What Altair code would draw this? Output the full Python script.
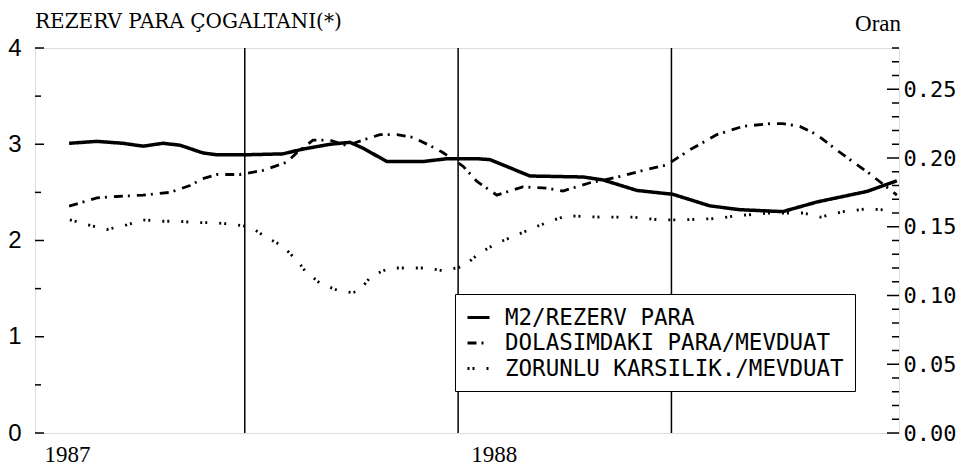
import altair as alt
import pandas as pd

# ---------------- data ----------------
title_text = "REZERV PARA ÇOGALTANI(*)"
right_title = "Oran"

series_names = ["M2/REZERV PARA", "DOLASIMDAKI PARA/MEVDUAT", "ZORUNLU KARSILIK./MEVDUAT"]

# x = months since Dec 1986 (1 = Jan 1987, 13 = Jan 1988)
m2_month = [1.06, 1.84, 2.57, 3.14, 3.70, 4.18, 4.82, 5.22, 5.95, 7.07,
            7.64, 8.40, 8.96, 9.32, 10.00, 11.01, 11.69, 12.53, 12.90, 14.02,
            15.51, 16.07, 17.03, 18.04, 19.08, 19.93, 21.13, 22.09, 23.50, 24.34]
m2_value = [3.01, 3.03, 3.01, 2.98, 3.01, 2.99, 2.91, 2.89, 2.89, 2.90,
            2.95, 3.00, 3.02, 2.96, 2.82, 2.82, 2.85, 2.85, 2.84, 2.67,
            2.66, 2.63, 2.52, 2.48, 2.36, 2.32, 2.30, 2.40, 2.51, 2.62]

dol_month = [1.06, 1.84, 2.41, 3.14, 3.90, 4.46, 4.82, 5.22, 5.86, 6.51,
             7.19, 7.47, 7.92, 8.40, 8.87, 9.32, 9.80, 10.28, 10.73, 11.21,
             11.57, 12.14, 12.53, 13.09, 13.82, 14.50, 14.95, 15.71, 16.47, 17.20,
             17.87, 18.52, 19.28, 20.01, 20.77, 21.13, 21.61, 22.09, 22.74, 23.50,
             23.95, 24.34]
dol_ratio = [0.165, 0.171, 0.172, 0.173, 0.175, 0.180, 0.185, 0.188, 0.188, 0.191,
             0.197, 0.204, 0.213, 0.213, 0.209, 0.213, 0.217, 0.217, 0.215, 0.209,
             0.204, 0.194, 0.183, 0.173, 0.179, 0.178, 0.176, 0.182, 0.186, 0.191,
             0.195, 0.206, 0.217, 0.223, 0.225, 0.225, 0.223, 0.217, 0.204, 0.190,
             0.181, 0.173]

zor_month = [1.08, 1.65, 2.12, 2.63, 3.14, 3.70, 4.12, 4.66, 5.08, 5.58,
             6.15, 6.62, 7.07, 7.55, 7.69, 8.11, 8.59, 9.04, 9.24, 9.52,
             9.72, 10.08, 10.65, 11.12, 11.57, 12.14, 12.61, 13.09, 13.65, 14.10,
             14.58, 15.06, 15.99, 16.92, 17.68, 18.32, 19.28, 19.84, 20.77, 21.70,
             22.18, 22.82, 23.50, 24.14]
zor_ratio = [0.155, 0.151, 0.148, 0.151, 0.155, 0.154, 0.154, 0.153, 0.153, 0.152,
             0.150, 0.142, 0.136, 0.123, 0.118, 0.109, 0.104, 0.102, 0.104, 0.113,
             0.116, 0.120, 0.120, 0.120, 0.118, 0.121, 0.131, 0.138, 0.144, 0.149,
             0.154, 0.158, 0.157, 0.157, 0.155, 0.155, 0.156, 0.158, 0.160, 0.160,
             0.157, 0.161, 0.163, 0.162]

divider_months = [6, 12, 18]
year_ticks = [1, 13]
year_labels = ["1987", "1988"]

left_major = [0, 1, 2, 3, 4]
left_minor = [0.5, 1.5, 2.5, 3.5]
right_major = [0.00, 0.05, 0.10, 0.15, 0.20, 0.25]
right_minor = [i / 100 for i in range(0, 29) if i % 5 != 0]

# ---------------- tables ----------------
m2_df = pd.DataFrame({"month": m2_month, "value": m2_value, "series": series_names[0]})
ratio_df = pd.concat([
    pd.DataFrame({"month": dol_month, "ratio": dol_ratio, "series": series_names[1]}),
    pd.DataFrame({"month": zor_month, "ratio": zor_ratio, "series": series_names[2]}),
])
div_df = pd.DataFrame({"month": divider_months})
lmaj_df = pd.DataFrame({"v": left_major})
lmin_df = pd.DataFrame({"v": left_minor})
rmaj_df = pd.DataFrame({"v": right_major})
rmin_df = pd.DataFrame({"v": right_minor})
txt_df = pd.DataFrame({"t": [title_text]})
txt2_df = pd.DataFrame({"t": [right_title]})

W, H = 864, 385

label_expr = " : ".join(
    f"datum.value == {v} ? '{l}'" for v, l in zip(year_ticks[:-1], year_labels[:-1])
) + f" : '{year_labels[-1]}'"

xscale = alt.Scale(domain=[0.1, 24.4], nice=False, zero=False)
xaxis = alt.Axis(values=year_ticks, labelExpr=label_expr, ticks=False, domain=False,
                 grid=False, title=None, labelFont="Liberation Serif", labelFontSize=23,
                 labelPadding=10, labelColor="black", labelFlush=False)
X = alt.X("month:Q", scale=xscale, axis=xaxis)

left_scale = alt.Scale(domain=[0, 4], nice=False, zero=True)
right_scale = alt.Scale(domain=[0, 0.28], nice=False, zero=True)

dash_scale = alt.Scale(domain=series_names, range=[[1, 0], [9, 5, 2, 7], [2, 3, 2, 12]])
legend = alt.Legend(orient="none", legendX=420, legendY=246, title=None,
                    strokeColor="black", fillColor="white", padding=11,
                    labelFont="DejaVu Sans Mono", labelFontSize=22.5, labelColor="black",
                    labelLimit=500, labelOffset=14, symbolType="stroke", symbolSize=484,
                    symbolStrokeWidth=3, symbolStrokeColor="black", rowPadding=1.5)

dividers = alt.Chart(div_df).mark_rule(color="black", strokeWidth=1.5).encode(x=X)

m2_line = alt.Chart(m2_df).mark_line(color="black", strokeWidth=3.5).encode(
    x=X,
    y=alt.Y("value:Q", scale=left_scale,
            axis=alt.Axis(orient="left", values=left_major, ticks=False, domain=False,
                          grid=False, title=None,
                          labelFont="Liberation Sans Narrow, Liberation Sans",
                          labelFontSize=24, labelPadding=14, labelColor="black")),
    strokeDash=alt.StrokeDash("series:N", scale=dash_scale, legend=legend),
)

ratio_lines = alt.Chart(ratio_df).mark_line(color="black", strokeWidth=2.8).encode(
    x=X,
    y=alt.Y("ratio:Q", scale=right_scale,
            axis=alt.Axis(orient="right", values=right_major, format=".2f", ticks=False,
                          domain=False, grid=False, title=None,
                          labelFont="DejaVu Sans Mono", labelFontSize=22,
                          labelPadding=4, labelColor="black")),
    strokeDash=alt.StrokeDash("series:N", scale=dash_scale, legend=legend),
    detail="series:N",
)

def tick_layer(df, scale, x0, x1):
    return alt.Chart(df).mark_rule(color="black", strokeWidth=1.5).encode(
        y=alt.Y("v:Q", scale=scale, axis=None),
        x=alt.value(x0), x2=alt.value(x1),
    )

lt_major = tick_layer(lmaj_df, left_scale, 0, 9)
lt_minor = tick_layer(lmin_df, left_scale, 0, 6)
rt_major = tick_layer(rmaj_df, right_scale, W - 12, W)
rt_minor = tick_layer(rmin_df, right_scale, W - 7, W)

title_mark = alt.Chart(txt_df).mark_text(
    font="DejaVu Serif", fontSize=20, align="left", baseline="alphabetic", color="black"
).encode(text="t:N", x=alt.value(0), y=alt.value(-20))

oran_mark = alt.Chart(txt2_df).mark_text(
    font="Liberation Serif", fontSize=23, align="right", baseline="alphabetic", color="black"
).encode(text="t:N", x=alt.value(W + 2), y=alt.value(-17))

chart = alt.layer(
    dividers, m2_line, ratio_lines, lt_major, lt_minor, rt_major, rt_minor,
    title_mark, oran_mark
).resolve_scale(y="independent").properties(
    width=W, height=H,
    padding={"left": 27, "top": 40, "right": 59, "bottom": 38},
    autosize=alt.AutoSizeParams(type="none"),
).configure_view(stroke="black", strokeWidth=2).configure(background="white")

chart.save("out.html", embed_options={"renderer": "svg", "actions": False})
